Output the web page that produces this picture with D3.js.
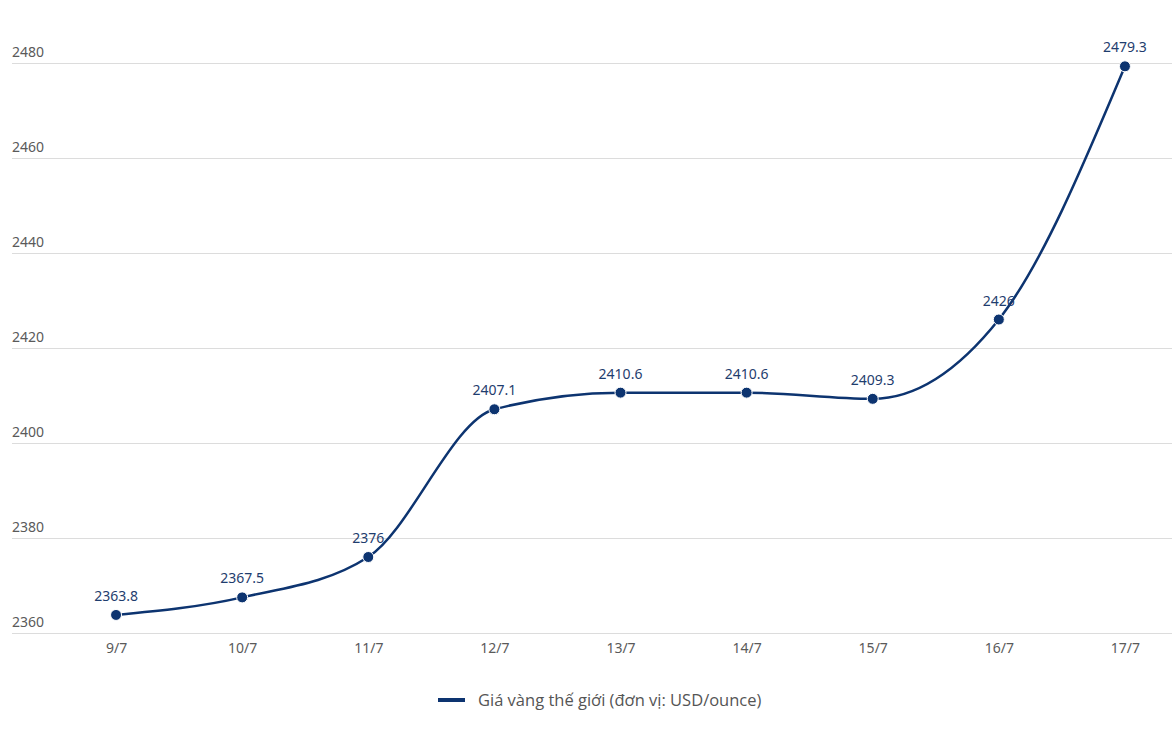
<!DOCTYPE html>
<html>
<head>
<meta charset="utf-8">
<script src="https://cdn.jsdelivr.net/npm/d3@7"></script>
<style>
  body { margin: 0; background: #fff; }
  svg text { font-family: "Noto Sans", "Open Sans", sans-serif; }
</style>
</head>
<body>
<div id="chart"></div>
<script>
// data
const dates = ["9/7", "10/7", "11/7", "12/7", "13/7", "14/7", "15/7", "16/7", "17/7"];
const prices = [2363.8, 2367.5, 2376, 2407.1, 2410.6, 2410.6, 2409.3, 2426, 2479.3];
const yTicks = [2360, 2380, 2400, 2420, 2440, 2460, 2480];
const seriesName = "Giá vàng thế giới (đơn vị: USD/ounce)";

const W = 1172, H = 736;
const navy = "#0d3470";

const svg = d3.select("#chart").append("svg")
    .attr("width", W)
    .attr("height", H);

let x = d3.scalePoint()
    .domain(dates)
    .range([53, 1188])
    .padding(0.5);

let y = d3.scaleLinear()
    .domain([2360, 2480])
    .range([633, 63]);

// gridlines + y labels
let grid = svg.append("g");
grid.selectAll("line")
    .data(yTicks)
    .enter().append("line")
    .attr("x1", 12)
    .attr("x2", W)
    .attr("y1", d => y(d) + 0.5)
    .attr("y2", d => y(d) + 0.5)
    .attr("stroke", "#dcdcdc")
    .attr("stroke-width", 1);

grid.selectAll("text")
    .data(yTicks)
    .enter().append("text")
    .attr("x", 12)
    .attr("y", d => y(d) - 6)
    .attr("fill", "#5a5a5a")
    .style("font-size", "14px")
    .text(d => d);

// x axis labels
let xAxis = d3.axisBottom(x).tickSize(0).tickPadding(0);
let gx = svg.append("g")
    .attr("transform", "translate(0,640)")
    .call(xAxis);
gx.select(".domain").remove();
gx.selectAll("text")
    .attr("fill", "#5a5a5a")
    .attr("dy", "0.9em")
    .style("font-size", "14px")
    .style("font-family", "\"Noto Sans\", sans-serif");

const pts = dates.map((d, i) => ({ date: d, value: prices[i] }));

let line = d3.line()
    .x(d => x(d.date))
    .y(d => y(d.value))
    .curve(d3.curveMonotoneX);

svg.append("path")
    .datum(pts)
    .attr("d", line)
    .attr("fill", "none")
    .attr("stroke", navy)
    .attr("stroke-width", 2.5);

svg.selectAll(".dot")
    .data(pts)
    .enter().append("circle")
    .attr("class", "dot")
    .attr("cx", d => x(d.date))
    .attr("cy", d => y(d.value))
    .attr("r", 5.5)
    .attr("fill", navy)
    .attr("stroke", "#fff")
    .attr("stroke-width", 1);

svg.selectAll(".val")
    .data(pts)
    .enter().append("text")
    .attr("class", "val")
    .attr("x", d => x(d.date))
    .attr("y", d => y(d.value) - 14)
    .attr("text-anchor", "middle")
    .attr("fill", "#1f3d6e")
    .style("font-size", "14px")
    .text(d => d.value);

// legend
let lg = svg.append("g").attr("transform", "translate(438,700)");
lg.append("line")
    .attr("x1", 0).attr("x2", 27)
    .attr("y1", 0).attr("y2", 0)
    .attr("stroke", navy)
    .attr("stroke-width", 4);
lg.append("text")
    .attr("x", 40)
    .attr("y", 5.5)
    .attr("fill", "#555")
    .style("font-size", "16.5px")
    .style("font-family", "\"Open Sans\", sans-serif")
    .text(seriesName);
</script>
</body>
</html>
